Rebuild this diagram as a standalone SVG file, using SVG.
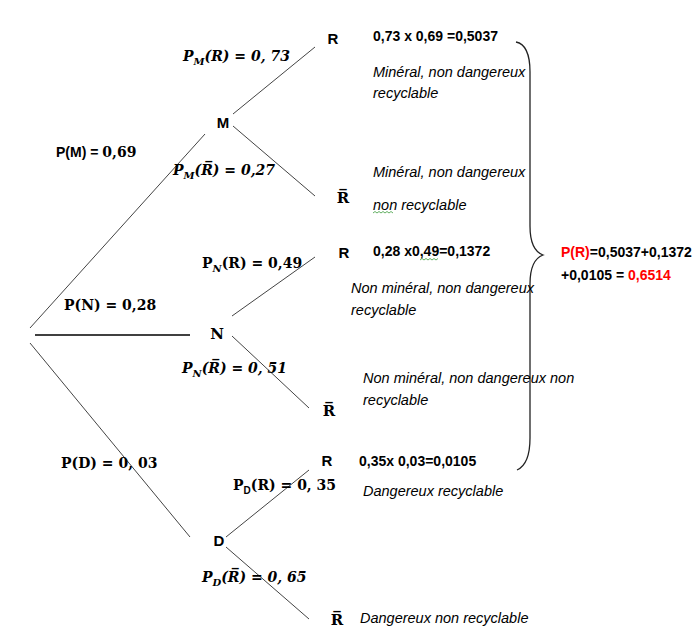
<svg xmlns="http://www.w3.org/2000/svg" width="695" height="631" viewBox="0 0 695 631">
<style>
.ln{stroke:#444;stroke-width:1;fill:none}
.main{stroke:#000;stroke-width:1.6;fill:none}
.brace{stroke:#222;stroke-width:1.3;fill:none}
.sq{stroke:#3a9a3a;stroke-width:0.8;fill:none}
.m{font-family:"DejaVu Serif",serif;font-weight:bold;font-size:14px;fill:#000}
.mi{font-family:"DejaVu Serif",serif;font-weight:bold;font-style:italic;font-size:14px;fill:#000}
.sub{font-size:10px}
.nd{font-family:"Liberation Sans",Arial,sans-serif;font-weight:bold;font-size:15px;fill:#000;text-anchor:middle}
.nds{font-family:"DejaVu Serif",serif;font-weight:bold;font-size:15px;fill:#000;text-anchor:middle}
.b{font-family:"Liberation Sans",Arial,sans-serif;font-weight:bold;font-size:14px;fill:#000}
.it{font-family:"Liberation Sans",Arial,sans-serif;font-style:italic;font-size:14.5px;fill:#000}
.red{fill:#ff0000}
</style>
<g id="connectors">
<line class="ln" x1="30" y1="328" x2="205" y2="134"/>
<line class="main" x1="35" y1="335" x2="190" y2="335"/>
<line class="ln" x1="30" y1="343" x2="190" y2="537"/>
<line class="ln" x1="233" y1="114" x2="315" y2="47"/>
<line class="ln" x1="233" y1="126" x2="315" y2="196"/>
<line class="ln" x1="232" y1="316" x2="315" y2="257"/>
<line class="ln" x1="232" y1="336" x2="309" y2="408"/>
<line class="ln" x1="226" y1="537" x2="309" y2="470"/>
<line class="ln" x1="226" y1="547" x2="309" y2="619"/>
</g>
<g id="brace">
<path class="brace" d="M516,42 C526,44 530,55 530,72 L530,226 C530,243 535,252 543,255 C535,258 530,267 530,284 L530,438 C530,455 526,466 517,470"/>
</g>
<g id="node-M"><text class="nd" x="223" y="128">M</text></g>
<g id="node-N"><text class="nds" x="217" y="339">N</text></g>
<g id="node-D"><text class="nd" x="219" y="546">D</text></g>
<g id="node-MR"><text class="nd" x="333" y="44">R</text></g>
<g id="node-MRbar"><text class="nds" x="343" y="203">R&#x305;</text></g>
<g id="node-NR"><text class="nd" x="344" y="258">R</text></g>
<g id="node-NRbar"><text class="nds" x="329" y="416">R&#x305;</text></g>
<g id="node-DR"><text class="nd" x="327" y="466">R</text></g>
<g id="node-DRbar"><text class="nds" x="337" y="625">R&#x305;</text></g>
<g id="edge-labels">
<text x="56" y="157"><tspan class="b">P(M) = </tspan><tspan class="m">0,69</tspan></text>
<text class="m" x="64" y="310">P(N) = 0,28</text>
<text class="m" x="61" y="468">P(D) = 0, 03</text>
<text class="mi" x="183" y="61">P<tspan class="sub" dy="4">M</tspan><tspan dy="-4">(R) = 0, 73</tspan></text>
<text class="mi" x="173" y="175">P<tspan class="sub" dy="4">M</tspan><tspan dy="-4">(R&#x305;) = 0,27</tspan></text>
<text class="m" x="202" y="268">P<tspan class="sub" font-style="italic" dy="4">N</tspan><tspan dy="-4">(R) = 0,49</tspan></text>
<text class="mi" x="182" y="373">P<tspan class="sub" dy="4">N</tspan><tspan dy="-4">(R&#x305;) = 0, 51</tspan></text>
<text class="m" x="233" y="490">P<tspan class="sub" font-family="Liberation Sans, Arial, sans-serif" dy="4">D</tspan><tspan dy="-4">(R) = 0, 35</tspan></text>
<text class="mi" x="202" y="582">P<tspan class="sub" dy="4">D</tspan><tspan dy="-4">(R&#x305;) = 0, 65</tspan></text>
</g>
<g id="annotations">
<text class="b" x="373" y="41">0,73 x 0,69 =0,5037</text>
<text class="it" x="373" y="77">Minéral, non dangereux</text>
<text class="it" x="373" y="98">recyclable</text>
<text class="it" x="373" y="177">Minéral, non dangereux</text>
<text class="it" x="373" y="210">non recyclable</text>
<path class="sq" d="M373,213 l2,-1.5 l2,1.5 l2,-1.5 l2,1.5 l2,-1.5 l2,1.5 l2,-1.5 l2,1.5 l2,-1.5 l2,1.5"/>
<text class="b" x="373" y="256">0,28 x0,49=0,1372</text>
<path class="sq" d="M420,260 l2,-1.5 l2,1.5 l2,-1.5 l2,1.5 l2,-1.5 l2,1.5 l2,-1.5 l2,1.5 l2,-1.5"/>
<text class="it" x="351" y="293">Non minéral, non dangereux</text>
<text class="it" x="351" y="315">recyclable</text>
<text class="it" x="363" y="383">Non minéral, non dangereux non</text>
<text class="it" x="363" y="405">recyclable</text>
<text class="b" x="359" y="466">0,35x 0,03=0,0105</text>
<text class="it" x="363" y="496">Dangereux recyclable</text>
<text class="it" x="360" y="623">Dangereux non recyclable</text>
<text class="b" x="561" y="257"><tspan class="red">P(R)</tspan>=0,5037+0,1372</text>
<text class="b" x="561" y="280">+0,0105 = <tspan class="red">0,6514</tspan></text>
</g>
</svg>
